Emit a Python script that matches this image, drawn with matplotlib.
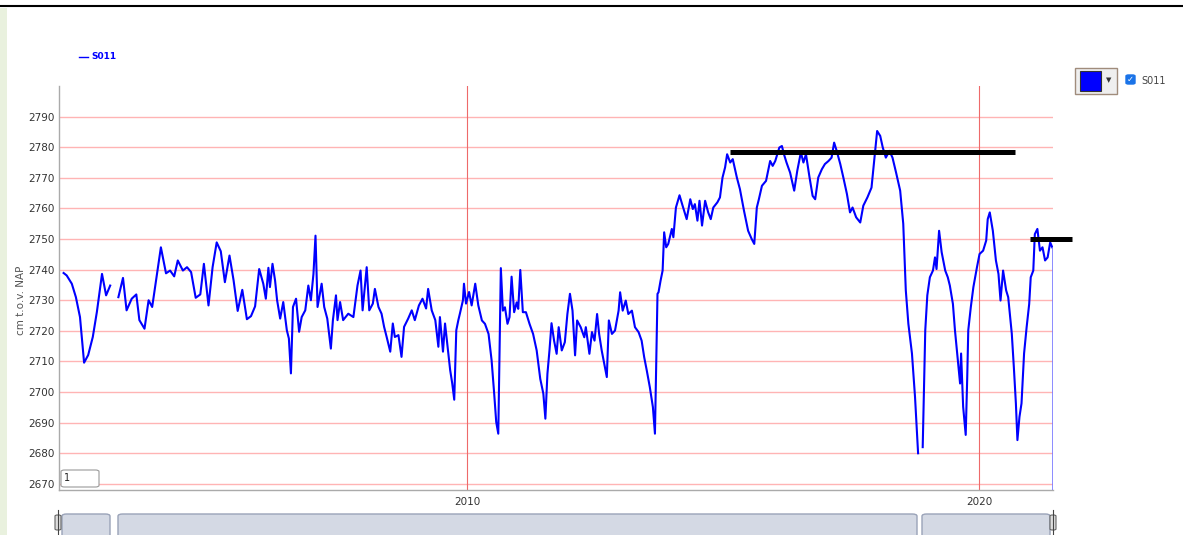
# -*- coding: utf-8 -*-
import numpy as np
import matplotlib
matplotlib.use('Agg')
import matplotlib.pyplot as plt
from matplotlib.patches import Rectangle, FancyBboxPatch
from matplotlib.lines import Line2D

### groundwater level S011 (decimal year, cm t.o.v. NAP); nan = gap
dates = [
    2002.12, 2002.18, 2002.28, 2002.36, 2002.44, 2002.52, 2002.60, 2002.69,
    2002.77, 2002.87, 2002.95, 2003.03, 2003.11,
    2003.19, 2003.28, 2003.35, 2003.45, 2003.54, 2003.60, 2003.70, 2003.78,
    2003.85, 2004.02, 2004.12, 2004.20, 2004.28, 2004.35, 2004.45, 2004.53,
    2004.61, 2004.70, 2004.79, 2004.86, 2004.95, 2005.03, 2005.11, 2005.19,
    2005.27, 2005.36, 2005.44, 2005.52, 2005.61, 2005.70, 2005.78, 2005.86,
    2005.94, 2006.02, 2006.07, 2006.12, 2006.15, 2006.20, 2006.25, 2006.29,
    2006.35, 2006.41, 2006.48, 2006.52, 2006.56, 2006.60, 2006.66, 2006.72,
    2006.77, 2006.84, 2006.90, 2006.95, 2007.00, 2007.04, 2007.08, 2007.16,
    2007.21, 2007.27, 2007.34, 2007.38, 2007.44, 2007.47, 2007.52, 2007.58,
    2007.68, 2007.78, 2007.86, 2007.92, 2007.96, 2008.04, 2008.09, 2008.16,
    2008.20, 2008.27, 2008.33, 2008.38, 2008.43, 2008.50, 2008.55, 2008.59,
    2008.66, 2008.72, 2008.77, 2008.85, 2008.92, 2008.98, 2009.06, 2009.13,
    2009.20, 2009.24, 2009.31, 2009.38, 2009.44, 2009.47, 2009.53, 2009.57,
    2009.62, 2009.67, 2009.71, 2009.75, 2009.79, 2009.83, 2009.86, 2009.92,
    2009.94, 2009.98, 2010.04, 2010.09, 2010.16, 2010.22, 2010.29, 2010.35,
    2010.42, 2010.48, 2010.53, 2010.57, 2010.61, 2010.66, 2010.70, 2010.74,
    2010.79, 2010.83, 2010.87, 2010.92, 2010.97, 2011.00, 2011.04, 2011.09,
    2011.15, 2011.22, 2011.29, 2011.36, 2011.43, 2011.49, 2011.53, 2011.57,
    2011.61, 2011.65, 2011.70, 2011.75, 2011.79, 2011.85, 2011.91, 2011.96,
    2012.01, 2012.06, 2012.11, 2012.15, 2012.22, 2012.29, 2012.32, 2012.39,
    2012.44, 2012.49, 2012.54, 2012.58, 2012.63, 2012.68, 2012.73, 2012.77,
    2012.83, 2012.89, 2012.96, 2012.99, 2013.04, 2013.10, 2013.15, 2013.22,
    2013.28, 2013.35, 2013.41, 2013.46, 2013.51, 2013.57, 2013.63, 2013.67,
    2013.72, 2013.74, 2013.78, 2013.82, 2013.85, 2013.89, 2013.93, 2014.00,
    2014.03, 2014.08, 2014.15, 2014.21, 2014.29, 2014.36, 2014.41, 2014.45,
    2014.50, 2014.54, 2014.59, 2014.65, 2014.71, 2014.76, 2014.81, 2014.89,
    2014.94, 2014.99, 2015.04, 2015.08, 2015.14, 2015.19, 2015.27, 2015.33,
    2015.41, 2015.49, 2015.56, 2015.61, 2015.66, 2015.70, 2015.76, 2015.84,
    2015.92, 2015.97, 2016.02, 2016.10, 2016.15, 2016.19, 2016.24, 2016.31,
    2016.39, 2016.45, 2016.52, 2016.57, 2016.62, 2016.69, 2016.75, 2016.80,
    2016.86, 2016.93, 2016.99, 2017.06, 2017.12, 2017.17, 2017.22, 2017.29,
    2017.35, 2017.42, 2017.48, 2017.53, 2017.60, 2017.68, 2017.74, 2017.82,
    2017.90, 2017.97, 2018.01, 2018.07, 2018.12, 2018.18, 2018.25, 2018.31,
    2018.38, 2018.46, 2018.52, 2018.57, 2018.62, 2018.69, 2018.75, 2018.81,
    2018.86,
    2018.90, 2018.95, 2018.99, 2019.04, 2019.10, 2019.14, 2019.17, 2019.22,
    2019.27, 2019.34, 2019.39, 2019.43, 2019.49, 2019.53, 2019.58, 2019.63,
    2019.65, 2019.69, 2019.74, 2019.77, 2019.79, 2019.84, 2019.89, 2019.96,
    2020.01, 2020.08, 2020.14, 2020.17, 2020.21, 2020.27, 2020.33, 2020.38,
    2020.42, 2020.47, 2020.53, 2020.57, 2020.64, 2020.68, 2020.72, 2020.75,
    2020.79, 2020.83, 2020.88, 2020.93, 2020.98, 2021.01, 2021.06, 2021.09,
    2021.14, 2021.19, 2021.24, 2021.29, 2021.34, 2021.39, 2021.43,
]
levels = [
    2738.9, 2738.1, 2735.4, 2731.0, 2724.5, 2709.6, 2712.1, 2718.0,
    2726.2, 2738.6, 2731.6, 2734.8, np.nan,
    2731.0, 2737.3, 2726.7, 2730.5, 2731.9, 2723.5, 2720.7, 2730.0,
    2727.8, 2747.3, 2738.8, 2739.7, 2737.8, 2743.0, 2739.7, 2740.8,
    2739.2, 2730.8, 2731.9, 2741.9, 2728.3, 2740.8, 2748.9, 2746.0,
    2735.9, 2744.6, 2736.5, 2726.5, 2733.4, 2723.8, 2724.8, 2728.0,
    2740.2, 2735.4, 2730.5, 2740.6, 2734.3, 2741.9, 2736.5, 2730.0,
    2724.0, 2729.4, 2720.2, 2717.5, 2706.1, 2727.8, 2730.5, 2719.7,
    2724.5, 2726.7, 2734.8, 2730.0, 2738.6, 2751.1, 2727.8, 2735.4,
    2727.8, 2724.0, 2714.2, 2723.5, 2731.6, 2723.5, 2729.4, 2723.5,
    2725.6, 2724.5, 2734.8, 2739.7, 2726.7, 2740.8, 2726.7, 2728.9,
    2733.7, 2727.8, 2725.6, 2721.3, 2718.0, 2713.2, 2722.4, 2718.0,
    2718.6, 2711.5, 2721.3, 2724.0, 2726.7, 2723.5, 2728.3, 2730.5,
    2727.3, 2733.7, 2726.7, 2723.5, 2714.8, 2724.5, 2713.2, 2722.4,
    2714.8, 2707.2, 2702.9, 2697.5, 2720.2, 2723.5, 2725.6, 2730.0,
    2735.4, 2728.9, 2732.7, 2728.3, 2735.4, 2728.3, 2723.4, 2722.3,
    2719.0, 2710.3, 2699.5, 2690.2, 2686.4, 2740.5, 2726.6, 2727.7,
    2722.3, 2724.5, 2737.7, 2726.1, 2729.3, 2727.2, 2739.9, 2726.1,
    2726.1, 2722.3, 2719.0, 2713.6, 2704.3, 2699.5, 2691.3, 2706.0,
    2713.6, 2722.5, 2716.8, 2712.5, 2721.2, 2713.6, 2716.3, 2725.5,
    2732.1, 2726.6, 2712.0, 2723.4, 2721.2, 2717.9, 2721.2, 2712.5,
    2719.6, 2716.8, 2725.5, 2719.0, 2713.6, 2709.2, 2704.9, 2723.4,
    2719.0, 2720.1, 2726.6, 2732.6, 2726.6, 2729.9, 2725.5, 2726.6,
    2721.2, 2719.6, 2716.8, 2711.4, 2707.1, 2701.6, 2695.1, 2686.4,
    2732.1, 2732.6, 2736.4, 2739.7, 2752.2, 2747.3, 2748.4, 2753.3,
    2750.6, 2760.3, 2764.3, 2760.9, 2756.5, 2763.0, 2759.8, 2761.4,
    2756.0, 2762.5, 2754.4, 2762.5, 2758.7, 2756.5, 2760.3, 2762.0,
    2763.6, 2770.1, 2773.4, 2777.7, 2775.0, 2776.1, 2770.1, 2766.3,
    2759.2, 2752.7, 2750.0, 2748.4, 2760.3, 2763.0, 2767.4, 2769.0,
    2775.5, 2773.9, 2775.5, 2779.9, 2780.4, 2777.7, 2775.0, 2771.7,
    2765.8, 2772.3, 2778.3, 2775.0, 2777.7, 2770.1, 2764.1, 2763.0,
    2770.1, 2772.8, 2774.5, 2775.5, 2776.6, 2781.5, 2778.8, 2774.5,
    2770.1, 2764.7, 2758.7, 2760.3, 2757.1, 2755.4, 2760.9, 2763.6,
    2766.8, 2778.8, 2785.3, 2783.7, 2779.9, 2776.6, 2778.8, 2776.6,
    2771.7, 2765.8, 2755.0, 2733.2, 2722.3, 2712.6, 2698.4, 2680.0,
    np.nan,
    2682.0, 2720.2, 2731.6, 2737.5, 2739.7, 2744.0, 2740.2, 2752.7,
    2745.7, 2739.7, 2737.5, 2734.8, 2728.8, 2720.2, 2711.5, 2702.8,
    2712.6, 2695.2, 2686.0, 2705.0, 2720.2, 2727.8, 2734.3, 2740.8,
    2745.1, 2746.2, 2749.5, 2756.5, 2758.7, 2752.7, 2743.0, 2738.6,
    2729.9, 2739.7, 2733.2, 2731.0, 2719.1, 2708.2, 2696.3, 2684.3,
    2691.9, 2696.3, 2712.6, 2721.2, 2728.8, 2737.5, 2739.7, 2751.6,
    2753.3, 2746.2, 2747.3, 2743.0, 2744.0, 2748.9, 2747.3,
]

### hand-drawn reference levels (start, end, level)
ref_start = [2015.14, 2021.00]
ref_end = [2020.70, 2021.82]
ref_level = [2778.4, 2750.1]

yticks = list(range(2670, 2800, 10))
xticks = [2010, 2020]

W, H = 1183, 535


def fx(x):
    return x / W


def fy(y):
    return 1 - y / H


def main():
    fig = plt.figure(figsize=(W / 100, H / 100), dpi=100)
    fig.patch.set_facecolor('white')

    ax = fig.add_axes([fx(59), fy(490), fx(1053) - fx(59), fy(86) - fy(490)])
    ax.set_xlim(2002.03, 2021.445)
    ax.set_ylim(2668, 2800)

    for yv in yticks:
        ax.axhline(yv, color='#ffb4b4', lw=1.0, zorder=1)
    for xv in xticks:
        ax.axvline(xv, color='#ee6a6a', lw=0.8, zorder=2)

    ax.plot(dates, levels, color='#0000ff', lw=1.5, zorder=3)
    # drop line at end of series
    ax.vlines(dates[-1] + 0.01, 2668, levels[-1], color='#7878ff', lw=1.2,
              zorder=3)

    for x0, x1, lv in zip(ref_start, ref_end, ref_level):
        ax.plot([x0, x1], [lv, lv], color='black', lw=3.6,
                solid_capstyle='butt', clip_on=False, zorder=4)

    ax.set_yticks(yticks)
    ax.set_xticks(xticks)
    ax.set_xticklabels([str(v) for v in xticks])
    ax.tick_params(length=0, labelsize=7.5, labelcolor='#333333', pad=3)
    ax.tick_params(axis='x', pad=5)
    for s in ['top', 'right']:
        ax.spines[s].set_visible(False)
    for s in ['left', 'bottom']:
        ax.spines[s].set_color('#aaaaaa')
        ax.spines[s].set_linewidth(1.0)
    fig.text(fx(21), fy(300), 'cm t.o.v. NAP', fontsize=7.5, color='#555555',
             rotation=90, ha='center', va='center')

    ### page decoration
    fig.add_artist(Line2D([0, 1], [fy(6), fy(6)], color='black', lw=1.5))
    fig.add_artist(Rectangle((0, 0), fx(7), fy(8), color='#e9f1de', lw=0))

    # legend
    fig.add_artist(Line2D([fx(79), fx(88)], [fy(57), fy(57)],
                          color='#0000ff', lw=1.0))
    fig.text(fx(91), fy(57), 'S011', color='#0000ff', fontsize=6.5,
             fontweight='bold', va='center', ha='left')

    # colour picker + checkbox
    fig.add_artist(Rectangle((fx(1075), fy(94)), fx(42), 26 / H,
                             facecolor='#efefef', edgecolor='#a08c7c', lw=1))
    fig.add_artist(Rectangle((fx(1080), fy(91)), fx(21), 20 / H,
                             facecolor='#0000ff', edgecolor='#333333', lw=0.8))
    fig.text(fx(1109), fy(80), u'\u25BC', fontsize=5, color='#333333',
             ha='center', va='center')
    fig.add_artist(FancyBboxPatch((fx(1126), fy(84)), fx(9), 9 / H,
                                  boxstyle='round,pad=0,rounding_size=0.002',
                                  facecolor='#1a73e8', edgecolor='#1a73e8'))
    fig.text(fx(1130.5), fy(79.5), u'\u2713', fontsize=6, color='white',
             ha='center', va='center', fontweight='bold')
    fig.text(fx(1141), fy(81), 'S011', fontsize=7, color='#444444',
             ha='left', va='center')

    # zoom box
    fig.add_artist(FancyBboxPatch((fx(61), fy(487)), fx(38), 17 / H,
                                  boxstyle='round,pad=0,rounding_size=0.003',
                                  facecolor='white', edgecolor='#999999',
                                  lw=0.8, zorder=5))
    fig.text(fx(64), fy(478), '1', fontsize=7, color='#222222',
             ha='left', va='center', zorder=6)

    # navigator strip
    for x0, x1 in [(62, 110), (118, 917), (922, 1050)]:
        fig.add_artist(FancyBboxPatch((fx(x0), fy(540)), fx(x1 - x0), 26 / H,
                                      boxstyle='round,pad=0,rounding_size=0.004',
                                      facecolor='#d4d9e4', edgecolor='#9aa3b8',
                                      lw=1.0))
    for xh in [58, 1053]:
        fig.add_artist(Line2D([fx(xh), fx(xh)], [fy(510), fy(535)],
                              color='#444444', lw=0.8))
        fig.add_artist(FancyBboxPatch((fx(xh - 3), fy(530)), fx(6), 15 / H,
                                      boxstyle='round,pad=0,rounding_size=0.002',
                                      facecolor='#dddddd', edgecolor='#666666',
                                      lw=0.8))

    fig.savefig('out.png', dpi=100)


if __name__ == '__main__':
    main()
